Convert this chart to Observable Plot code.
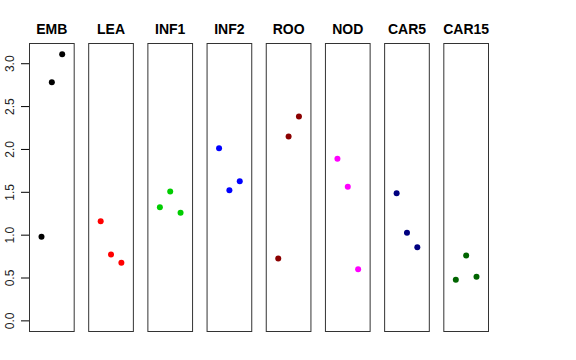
<!DOCTYPE html>
<html>
<head>
<meta charset="utf-8">
<script src="https://cdn.jsdelivr.net/npm/d3@7"></script>
<script src="https://cdn.jsdelivr.net/npm/@observablehq/plot@0.6"></script>
<style>
  html, body { margin: 0; padding: 0; background: #fff; }
  svg { display: block; }
</style>
</head>
<body>
<div id="chart"></div>
<script>
const groups = ["EMB", "LEA", "INF1", "INF2", "ROO", "NOD", "CAR5", "CAR15"];
const colors = ["#000000", "#FF0000", "#00CD00", "#0000FF", "#8B0000", "#FF00FF", "#000080", "#006400"];
const positions = [1, 2, 3];
const EMB = [0.98, 2.785, 3.11];
const LEA = [1.163, 0.774, 0.677];
const INF1 = [1.326, 1.509, 1.26];
const INF2 = [2.015, 1.525, 1.63];
const ROO = [0.727, 2.151, 2.385];
const NOD = [1.891, 1.564, 0.602];
const CAR5 = [1.49, 1.027, 0.859];
const CAR15 = [0.479, 0.762, 0.514];
const yTicks = [0, 0.5, 1, 1.5, 2, 2.5, 3];

const series = [EMB, LEA, INF1, INF2, ROO, NOD, CAR5, CAR15];
const data = groups.flatMap((g, i) => series[i].map((v, j) => ({group: g, pos: positions[j], value: v})));

const chart = Plot.plot({
  width: 576,
  height: 360,
  marginLeft: 29,
  marginRight: 88,
  marginTop: 43,
  marginBottom: 29,
  style: {fontFamily: "'Liberation Sans', Arial, sans-serif", background: "#fff"},
  fx: {domain: groups, paddingInner: 0.245, paddingOuter: 0, round: false, label: null},
  x: {domain: [-0.16, 4.16], axis: null},
  y: {domain: [-0.124, 3.236], label: null},
  color: {domain: groups, range: colors},
  marks: [
    Plot.frame({stroke: "#333", strokeWidth: 1}),
    Plot.axisFx({anchor: "top", tickSize: 0, tickPadding: 10, fontSize: 14, fontWeight: "bold", label: null, fill: "#000"}),
    Plot.axisY(yTicks, {anchor: "left", tickSize: 8, tickPadding: 8, tickRotate: -90, fontSize: 12, tickFormat: d3.format(".1f"), label: null, stroke: "#000", fill: "#222"}),
    Plot.dot(data, {fx: "group", x: "pos", y: "value", r: 3, fill: "group", stroke: null})
  ]
});
document.getElementById("chart").appendChild(chart);
</script>
</body>
</html>
